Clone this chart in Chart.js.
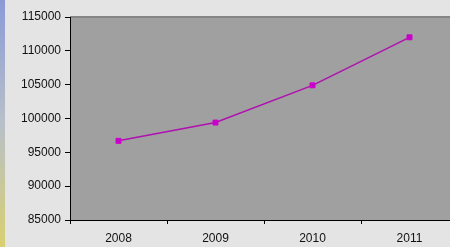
<!DOCTYPE html>
<html>
<head>
<meta charset="utf-8">
<script src="https://cdn.jsdelivr.net/npm/chart.js@4"></script>
<style>
  html, body { margin: 0; padding: 0; width: 450px; height: 247px; overflow: hidden; background: #e4e4e4; }
  #strip { position: absolute; left: 0; top: 0; width: 5px; height: 247px;
    background: linear-gradient(#8a9ad8, #b8c0c8 50%, #d8d070); }
  #wrap { position: absolute; left: 0; top: 0; width: 470px; height: 247px; }
</style>
</head>
<body>
<div id="strip"></div>
<div id="wrap"><canvas id="chart" width="470" height="247"></canvas></div>
<script>
// values
const years = ["2008", "2009", "2010", "2011"];
const values = [96700, 99400, 104900, 112000];
const yMin = 85000;
const yMax = 115000;
const yStep = 5000;

// gray plot background + darker top edge
const plotBg = {
  id: "plotBg",
  beforeDraw(chart) {
    const { ctx, chartArea: a } = chart;
    ctx.save();
    ctx.fillStyle = "#a0a0a0";
    ctx.fillRect(a.left, a.top, a.right - a.left, a.bottom - a.top);
    ctx.fillStyle = "#858585";
    ctx.fillRect(a.left, a.top - 1, a.right - a.left, 2);
    ctx.restore();
  }
};

const ctx = document.getElementById("chart").getContext("2d");
new Chart(ctx, {
  type: "line",
  data: {
    labels: years,
    datasets: [{
      data: values,
      borderColor: "#b010b0",
      borderWidth: 1.5,
      pointStyle: "rect",
      pointRadius: 3.5,
      pointBackgroundColor: "#cc00cc",
      pointBorderColor: "#cc00cc",
      pointBorderWidth: 1,
      tension: 0
    }]
  },
  options: {
    responsive: false,
    animation: false,
    layout: { padding: { top: 17, right: 12, left: 0, bottom: 0 } },
    plugins: { legend: { display: false }, tooltip: { enabled: false } },
    scales: {
      x: {
        offset: true,
        grid: { offset: true, drawOnChartArea: false, tickLength: 4, color: "#000" },
        border: { color: "#000", width: 1 },
        ticks: { color: "#111", font: { family: "Liberation Sans, Arial", size: 12 }, padding: 7 },
        afterFit(scale) { scale.height = 27; }
      },
      y: {
        min: yMin,
        max: yMax,
        grid: { drawOnChartArea: false, tickLength: 5, color: "#000" },
        border: { color: "#000", width: 1 },
        ticks: {
          stepSize: yStep, color: "#111", padding: 4,
          font: { family: "Liberation Sans, Arial", size: 12 },
          callback: (v) => String(v)
        },
        afterFit(scale) { scale.width = 70; }
      }
    }
  },
  plugins: [plotBg]
});
</script>
</body>
</html>
